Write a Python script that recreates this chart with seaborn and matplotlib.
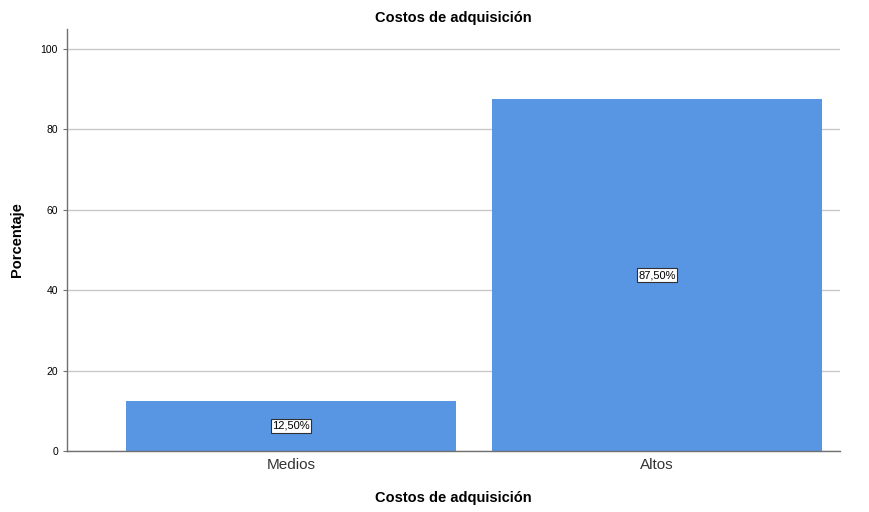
import pandas as pd
import matplotlib.pyplot as plt
import seaborn as sns

# Data
categories = ["Medios", "Altos"]
percentages = [12.5, 87.5]
labels = ["12,50%", "87,50%"]

df = pd.DataFrame({"categoria": categories, "porcentaje": percentages})

sns.set_style("white")
plt.rcParams["font.family"] = ["Liberation Sans", "DejaVu Sans"]

fig = plt.figure(figsize=(8.69, 5.12), dpi=100)
ax = fig.add_axes([67 / 869, 1 - 451 / 512, 773 / 869, 422 / 512])

sns.barplot(
    data=df,
    x="categoria",
    y="porcentaje",
    color="#5896e3",
    width=0.9,
    saturation=1,
    ax=ax,
    zorder=2
)

for patch in ax.patches:
    patch.set_edgecolor("none")

ax.set_xlim(-0.612, 1.5)
ax.set_ylim(0, 105)
ax.set_yticks([0, 20, 40, 60, 80, 100])
ax.yaxis.grid(True, color="#c8c8c8", linewidth=1, zorder=0)
ax.set_axisbelow(True)

for side in ["top", "right"]:
    ax.spines[side].set_visible(False)
for side in ["left", "bottom"]:
    ax.spines[side].set_color("#707070")
    ax.spines[side].set_linewidth(1)

# Value labels
for i, (v, lab) in enumerate(zip(percentages, labels)):
    ax.text(
        i, v / 2, lab,
        ha="center", va="center", fontsize=8, color="black",
        bbox=dict(boxstyle="square,pad=0.15", facecolor="white",
                  edgecolor="#303030", linewidth=0.8),
        zorder=5
    )

ax.tick_params(axis="y", labelsize=7.5, length=3, color="#707070",
               left=True, labelcolor="black")
ax.tick_params(axis="x", labelsize=11, length=0, pad=5, labelcolor="#333333")

ax.set_title("Costos de adquisición", fontsize=10.5, fontweight="bold",
             pad=5, color="black")
ax.set_xlabel("Costos de adquisición", fontsize=10.5, fontweight="bold",
              labelpad=14, color="black")
ax.set_ylabel("Porcentaje", fontsize=10.5, fontweight="bold",
              labelpad=12, color="black")

fig.savefig("out.png", dpi=100)
plt.close()
